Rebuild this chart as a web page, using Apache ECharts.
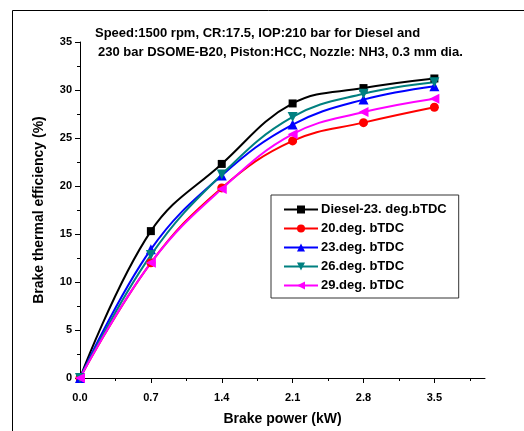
<!DOCTYPE html>
<html><head><meta charset="utf-8">
<script src="https://cdn.jsdelivr.net/npm/echarts@6/dist/echarts.min.js"></script>
<style>html,body{margin:0;padding:0;background:#fff}#c{width:524px;height:431px}</style>
</head><body><div id="c"></div>
<script>
const power = [0, 0.7, 1.4, 2.1, 2.8, 3.5];
const diesel23 = [0, 15.3, 22.3, 28.6, 30.2, 31.2];
const deg20 = [0, 12.0, 19.8, 24.7, 26.6, 28.2];
const deg23 = [0, 13.4, 21.1, 26.4, 29.0, 30.4];
const deg26 = [0, 12.8, 21.2, 27.2, 29.6, 30.8];
const deg29 = [0, 12.0, 19.7, 25.4, 27.7, 29.1];
const xMajorTicks = [0, 0.7, 1.4, 2.1, 2.8, 3.5];
const xMinorTicks = [0.35, 1.05, 1.75, 2.45, 3.15, 3.85];
const seriesNames = ['Diesel-23. deg.bTDC', '20.deg. bTDC', '23.deg. bTDC', '26.deg. bTDC', '29.deg. bTDC'];
const font = 'Liberation Sans, Arial, sans-serif';

function pairs(ys){ return power.map((x,i)=>[x, ys[i]]); }
function mk(name, ys, color, symbol, size){
  return {name, type:'line', data:pairs(ys), smooth:0.4, symbol, symbolSize:size,
    lineStyle:{color, width:2}, itemStyle:{color}, z:3};
}
const chart = echarts.init(document.getElementById('c'));
chart.setOption({
  animation:false,
  backgroundColor:'#fff',
  grid:{left:80, top:42, right:39, bottom:49},
  xAxis:[{
    type:'value', min:0, max:4.0,
    axisLine:{show:true, lineStyle:{color:'#000', width:1}},
    axisTick:{show:true, inside:false, length:5, lineStyle:{color:'#000'}, customValues:xMajorTicks},
    axisLabel:{customValues:xMajorTicks, formatter:v=>v.toFixed(1), color:'#000', fontWeight:'bold', fontSize:11, fontFamily:font, margin:14},
    splitLine:{show:false},
    name:'Brake power (kW)', nameLocation:'middle', nameGap:34,
    nameTextStyle:{color:'#000', fontWeight:'bold', fontSize:14, fontFamily:font}
  },{
    type:'value', min:0, max:4.0, position:'bottom',
    axisLine:{show:false},
    axisTick:{show:true, length:3, lineStyle:{color:'#000'}, customValues:xMinorTicks},
    axisLabel:{show:false}, splitLine:{show:false}
  }],
  yAxis:{
    type:'value', min:0, max:35, interval:5,
    axisLine:{show:true, lineStyle:{color:'#000', width:1}},
    axisTick:{show:true, inside:false, length:5, lineStyle:{color:'#000'}},
    minorTick:{show:true, splitNumber:2, length:3, lineStyle:{color:'#000'}},
    axisLabel:{color:'#000', fontWeight:'bold', fontSize:11, fontFamily:font, margin:8},
    splitLine:{show:false},
    name:'Brake thermal efficiency (%)', nameLocation:'middle', nameGap:34, nameRotate:90,
    nameTextStyle:{color:'#000', fontWeight:'bold', fontSize:14, fontFamily:font}
  },
  legend:{
    orient:'vertical', left:271, top:195, width:188,
    backgroundColor:'#fff', borderColor:'#333', borderWidth:1,
    padding:[8,12,6,12], itemGap:6, itemWidth:34, itemHeight:10,
    textStyle:{color:'#000', fontWeight:'bold', fontSize:13, fontFamily:font, padding:[0,0,0,-2]},
    data:seriesNames
  },
  graphic:[
    {type:'rect', shape:{x:12.5, y:10.5, width:700, height:600}, style:{fill:'none', stroke:'#000', lineWidth:1}, silent:true, z:-1},
    {type:'text', left:95, top:27, style:{text:'Speed:1500 rpm, CR:17.5, IOP:210 bar for Diesel and', fill:'#000', font:'bold 13px '+font}},
    {type:'text', left:98, top:46, style:{text:'230 bar DSOME-B20, Piston:HCC, Nozzle: NH3, 0.3 mm dia.', fill:'#000', font:'bold 13px '+font}}
  ],
  series:[
    mk(seriesNames[0], diesel23, '#000000', 'rect', 8),
    mk(seriesNames[1], deg20, '#ff0000', 'circle', 9),
    mk(seriesNames[2], deg23, '#0000ff', 'triangle', 10),
    mk(seriesNames[3], deg26, '#008080', 'path://M0,0 L10,0 L5,9 Z', 10),
    mk(seriesNames[4], deg29, '#ff00ff', 'path://M0,5 L9,0 L9,10 Z', 10)
  ]
});
</script></body></html>
